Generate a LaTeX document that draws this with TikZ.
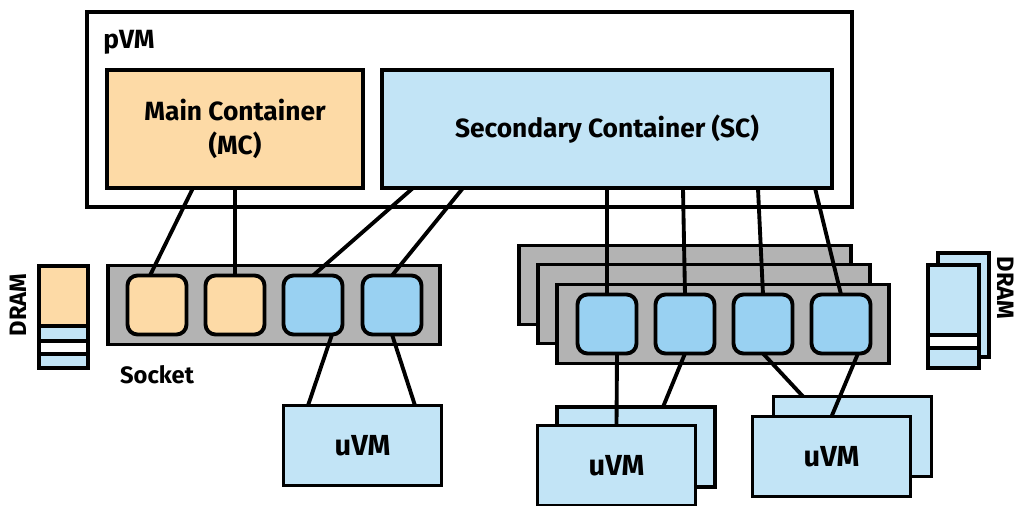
\documentclass[tikz,border=0pt]{standalone}
\usepackage{fontspec}
\setmainfont{Fira Sans}
\usepackage{xcolor}
\definecolor{peach}{HTML}{FDDAA6}
\definecolor{skyfill}{HTML}{C2E4F6}
\definecolor{corefill}{HTML}{99D1F2}
\definecolor{sockfill}{HTML}{B3B3B3}
\tikzset{box/.style={draw=black,line width=2.2pt,outer sep=0pt,inner sep=0pt,
   font=\fontsize{15}{19}\selectfont\bfseries,align=center},
 pvm/.style={box,fill=white,minimum width=15.3cm,minimum height=3.9cm},
 cont/.style={box,minimum height=2.36cm},
 sock/.style={box,fill=sockfill,minimum width=6.64cm,minimum height=1.58cm},
 core/.style={box,rounded corners=0.2cm,minimum width=1.18cm,minimum height=1.18cm},
 uvm/.style={box,fill=skyfill,minimum width=3.16cm,minimum height=1.6cm,
   font=\fontsize{16.5}{19}\selectfont\bfseries},
 wire/.style={line width=2.2pt},
 lbl/.style={font=\fontsize{13.5}{16}\selectfont\bfseries,inner sep=0pt},
 }

\begin{document}
\begin{tikzpicture}[x=0.02cm,y=-0.02cm]
        \useasboundingbox (0,0) rectangle (1014,506);
        % pVM with both containers
        \node[pvm] (pvm) at (469.5,109.5) {};
        \node[lbl,font=\fontsize{15}{19}\selectfont\bfseries,anchor=west] (pvmlbl) at (103,42) {pVM};
        \node[cont,fill=peach,minimum width=5.12cm] (mc) at (235,129) {Main Container\\(MC)};
        \node[cont,fill=skyfill,minimum width=9cm] (sc) at (607,129) {Secondary Container (SC)};
        % left socket
        \node[sock] (lsock) at (274,305) {};
        \node[core,fill=peach] (lc1) at (157,305) {};
        \node[core,fill=peach] (lc2) at (235,305) {};
        \node[core,fill=corefill] (lc3) at (313,305) {};
        \node[core,fill=corefill] (lc4) at (392,305) {};
        \node[lbl] (socklbl) at (157,375) {Socket};
        % left DRAM
        \draw[wire,fill=peach] (39,266) rectangle (88,326);
        \draw[wire,fill=skyfill] (39,326) rectangle (88,341);
        \draw[wire,fill=white] (39,341) rectangle (88,354);
        \draw[wire,fill=skyfill] (39,354) rectangle (88,368);
        \node[lbl,rotate=90] (ldram) at (18,305) {DRAM};
        % right sockets
        \node[sock] (rsock3) at (685,285) {};
        \node[sock] (rsock2) at (704,304) {};
        \node[sock] (rsock1) at (723,324) {};
        \node[core,fill=corefill] (rc1) at (607,324) {};
        \node[core,fill=corefill] (rc2) at (685,324) {};
        \node[core,fill=corefill] (rc3) at (763,324) {};
        \node[core,fill=corefill] (rc4) at (841,324) {};
        % right DRAM
        \draw[wire,fill=skyfill] (938,253) rectangle (989,357);
        \draw[wire,fill=skyfill] (928,265) rectangle (979,368);
        \draw[wire,fill=white] (928,335) rectangle (979,348);
        \node[lbl,rotate=-90] (rdram) at (1006,288) {DRAM};
        % uVMs
        \node[uvm] (luvm) at (362.5,445.5) {uVM};
        \node[uvm] (ruvmb1) at (636,447) {};
        \node[uvm] (ruvm1) at (616.5,465.5) {uVM};
        \node[uvm] (ruvmb2) at (852.5,436.5) {};
        \node[uvm] (ruvm2) at (831.5,456.5) {uVM};
        % links
        \draw[wire] ([xshift=-0.84cm]mc.south) -- ([xshift=-0.14cm]lc1.north);
        \draw[wire] (mc.south) -- (lc2.north);
        \draw[wire] ([xshift=-3.88cm]sc.south) -- (lc3.north);
        \draw[wire] ([xshift=-2.88cm]sc.south) -- (lc4.north);
        \draw[wire] (sc.south) -- (rc1.north);
        \draw[wire] ([xshift=1.52cm]sc.south) -- (rc2.north);
        \draw[wire] ([xshift=3.02cm]sc.south) -- (rc3.north);
        \draw[wire] ([xshift=4.16cm]sc.south) -- (rc4.north);
        \draw[wire] ([xshift=0.38cm]lc3.south) -- ([xshift=-1.09cm]luvm.north);
        \draw[wire] (lc4.south) -- ([xshift=1.05cm]luvm.north);
        \draw[wire] ([xshift=0.2cm]rc1.south) -- (ruvm1.north);
        \draw[wire] (rc2.south) -- ([xshift=0.54cm]ruvmb1.north);
        \draw[wire] (rc3.south) -- ([xshift=-0.99cm]ruvmb2.north);
        \draw[wire] ([xshift=0.34cm]rc4.south) -- (ruvm2.north);
    \end{tikzpicture}
\end{document}
